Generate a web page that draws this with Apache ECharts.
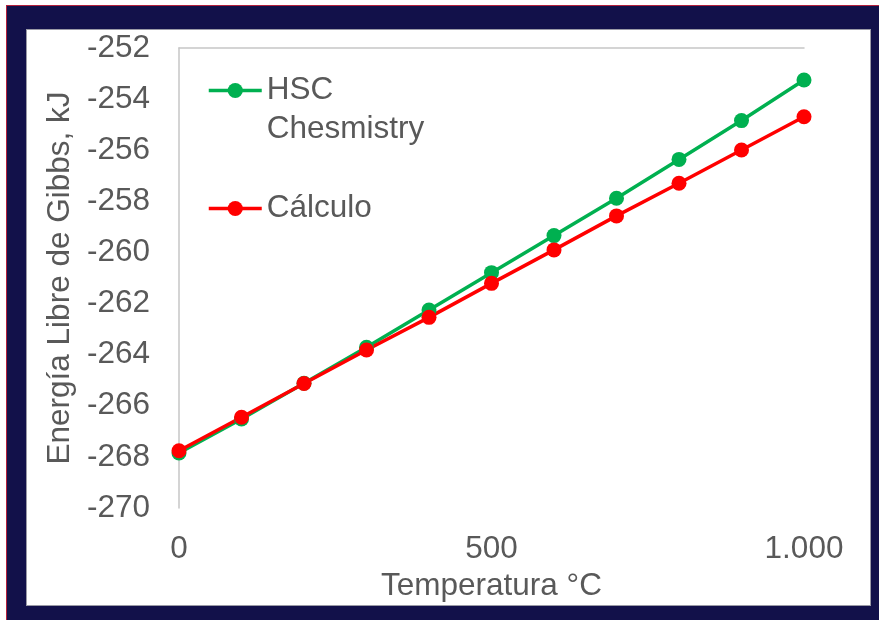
<!DOCTYPE html>
<html>
<head>
<meta charset="utf-8">
<script src="https://cdn.jsdelivr.net/npm/echarts@6/dist/echarts.min.js"></script>
<style>
  html, body { margin: 0; padding: 0; background: #ffffff; }
  #wrap { position: relative; width: 879px; height: 620px; overflow: hidden; }
  #frame { position: absolute; left: 6px; top: 5px; width: 873px; height: 615px;
           background: #12114a; border-left: 1.5px solid #b3203c; border-top: 1.5px solid #b3203c;
           box-sizing: border-box; }
  #panel { position: absolute; left: 26px; top: 29px; width: 845px; height: 577px;
           background: #ffffff; border: 1px solid #9a9aa6; box-sizing: border-box; }
  #chart { position: absolute; left: 0; top: 0; width: 879px; height: 620px; }
</style>
</head>
<body>
<div id="wrap">
  <div id="frame"></div>
  <div id="panel"></div>
  <div id="chart"></div>
</div>
<script>
// Temperature steps (°C)
const temperatures = [0, 100, 200, 300, 400, 500, 600, 700, 800, 900, 1000];
// Gibbs free energy, kJ
const hscValues = [-267.85, -266.52, -265.12, -263.71, -262.25, -260.79, -259.34, -257.88, -256.36, -254.84, -253.25];
const calcValues = [-267.76, -266.45, -265.13, -263.82, -262.54, -261.21, -259.90, -258.57, -257.29, -255.99, -254.69];
const seriesNames = ['HSC Chesmistry', 'Cálculo'];
const xTicks = [0, 500, 1000];

const font = "'Liberation Sans', Arial, sans-serif";
const fontSize = 31.5;
const textGray = '#595959';
const axisGray = '#c6c6c6';

const pairs = (xs, ys) => xs.map((x, i) => [x, ys[i]]);

// Two-word names wrap onto a second line; a blank leading line keeps the
// first word level with the legend marker.
const legendLabel = (name) => name.indexOf(' ') >= 0 ? '\n' + name.replace(' ', '\n') : name;

const chart = echarts.init(document.getElementById('chart'), null, { renderer: 'canvas' });
chart.setOption({
  backgroundColor: 'transparent',
  animation: false,
  grid: { left: 179, right: 75, top: 48, bottom: 112 },
  legend: {
    orient: 'vertical',
    left: 207,
    top: 32,
    padding: 0,
    itemWidth: 53,
    itemHeight: 19,
    itemGap: 40,
    lineStyle: { width: 3.5 },
    formatter: legendLabel,
    textStyle: { fontSize: fontSize, fontFamily: font, color: textGray, lineHeight: 39 },
    data: seriesNames
  },
  xAxis: [
    {
      type: 'value',
      position: 'bottom',
      min: 0,
      max: 1000,
      interval: 500,
      name: 'Temperatura °C',
      nameLocation: 'middle',
      nameGap: 61,
      nameTextStyle: { fontSize: fontSize, fontFamily: font, color: textGray },
      axisLine: { show: false },
      axisTick: { show: false },
      splitLine: { show: false },
      axisLabel: {
        fontSize: fontSize, fontFamily: font, color: textGray, margin: 25,
        customValues: xTicks,
        formatter: (v) => String(v).replace(/\B(?=(\d{3})+(?!\d))/g, '.')
      }
    },
    {
      type: 'value',
      position: 'top',
      min: 0,
      max: 1000,
      interval: 500,
      axisLine: { show: true, lineStyle: { color: axisGray, width: 1.5 } },
      axisTick: { show: false },
      axisLabel: { show: false },
      splitLine: { show: false }
    }
  ],
  yAxis: {
    type: 'value',
    min: -270,
    max: -252,
    interval: 2,
    name: 'Energía Libre de Gibbs, kJ',
    nameLocation: 'middle',
    nameGap: 101,
    nameTextStyle: { fontSize: fontSize, fontFamily: font, color: textGray },
    axisLine: { show: true, lineStyle: { color: axisGray, width: 1.5 } },
    axisTick: { show: false },
    splitLine: { show: false },
    axisLabel: { fontSize: fontSize, fontFamily: font, color: textGray, margin: 29 }
  },
  series: [
    {
      name: seriesNames[0],
      type: 'line',
      data: pairs(temperatures, hscValues),
      symbol: 'circle',
      symbolSize: 15,
      lineStyle: { color: '#00b050', width: 3.5 },
      itemStyle: { color: '#00b050' },
      clip: false
    },
    {
      name: seriesNames[1],
      type: 'line',
      data: pairs(temperatures, calcValues),
      symbol: 'circle',
      symbolSize: 15,
      lineStyle: { color: '#ff0000', width: 3.5 },
      itemStyle: { color: '#ff0000' },
      clip: false
    }
  ]
});
</script>
</body>
</html>
